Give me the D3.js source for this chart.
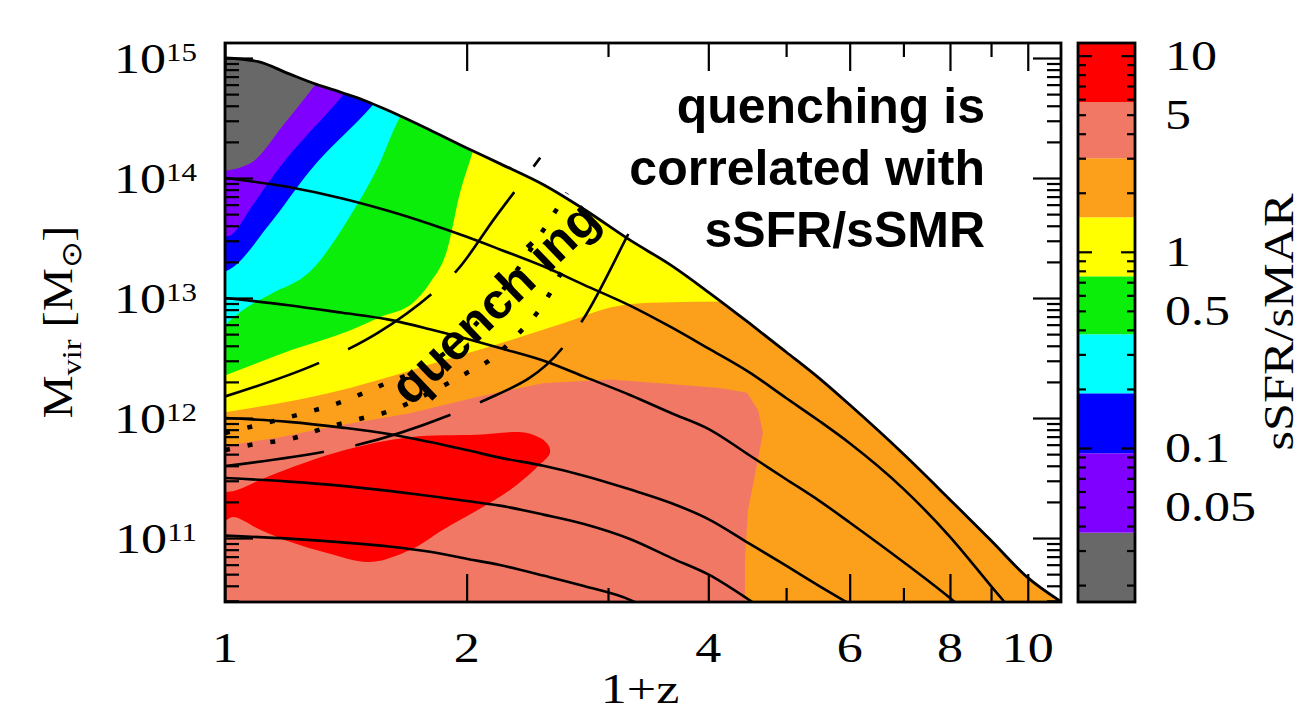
<!DOCTYPE html>
<html>
<head>
<meta charset="utf-8">
<script src="https://cdn.jsdelivr.net/npm/d3@7/dist/d3.min.js"></script>
<style>
html, body { margin: 0; padding: 0; background: #ffffff; }
svg { display: block; }
text { font-family: "Liberation Serif", "Times New Roman", serif; fill: #000; }
.note { font-family: "Liberation Sans", Arial, Helvetica, sans-serif; font-weight: bold; }
</style>
</head>
<body>
<svg id="chart" width="1306" height="723"></svg>
<script>
// Points are [1+z, log10(Mvir / Msun)].

// upper envelope of the populated region
const envelope = [[1.0,15.0],[1.1,14.97],[1.2,14.87],[1.3,14.78],[1.4,14.71],[1.5,14.64],[1.6,14.56],[1.8,14.40],[2.0,14.25],[2.2,14.12],[2.5,13.94],[2.8,13.74],[3.2,13.48],[3.6,13.27],[4.0,13.05],[4.5,12.79],[5.0,12.55],[5.5,12.33],[6.0,12.11],[7.0,11.70],[8.0,11.32],[9.0,10.98],[10,10.67],[11,10.47]];

// average mass-growth tracks, named by log10 of the z=0 mass
const track14 = [[1.0,14.0],[1.2,13.925],[1.4,13.83],[1.6,13.725],[1.8,13.617],[2.0,13.51],[2.2,13.405],[2.5,13.26],[2.8,13.11],[3.2,12.935],[3.6,12.755],[4.0,12.58],[4.5,12.38],[5.0,12.167],[5.5,11.975],[6.0,11.79],[7.0,11.41],[8.0,11.01],[9.0,10.6],[9.4,10.45]];
const track13 = [[1.0,13.0],[1.2,12.94],[1.4,12.877],[1.6,12.82],[1.8,12.74],[2.0,12.66],[2.2,12.583],[2.5,12.475],[2.8,12.345],[3.2,12.19],[3.6,12.04],[4.0,11.91],[4.5,11.69],[5.0,11.49],[5.5,11.31],[6.0,11.13],[7.0,10.80],[8.0,10.50],[8.2,10.44]];
const track12 = [[1.0,12.0],[1.2,11.968],[1.4,11.92],[1.6,11.867],[1.8,11.80],[2.0,11.733],[2.2,11.67],[2.5,11.6],[2.8,11.52],[3.2,11.404],[3.6,11.29],[4.0,11.158],[4.5,10.953],[5.0,10.77],[5.5,10.60],[6.0,10.45]];
const track115 = [[1.0,11.5],[1.2,11.47],[1.4,11.435],[1.6,11.393],[1.8,11.35],[2.0,11.308],[2.2,11.27],[2.5,11.193],[2.8,11.117],[3.2,10.99],[3.6,10.833],[4.0,10.697],[4.5,10.483],[4.6,10.44]];
const track11 = [[1.0,11.02],[1.2,10.995],[1.4,10.964],[1.6,10.93],[1.8,10.885],[2.0,10.827],[2.2,10.775],[2.5,10.685],[2.8,10.6],[3.2,10.483],[3.3,10.44]];

// dashed and dotted quenching curves
const quenchDashA = [[1.0,12.18],[1.32,12.47],[1.43,12.58],[1.55,12.71],[1.82,13.05],[1.945,13.23],[2.17,13.67],[2.42,14.09],[2.47,14.17]];
const quenchDashB = [[1.0,11.6],[1.332,11.72],[1.46,11.775],[1.906,12.025],[2.078,12.13],[2.637,12.59],[2.792,12.82],[3.15,13.48],[3.2,13.57]];
const quenchDotA = [[1.0,11.875],[1.074,11.925],[1.229,12.025],[1.391,12.13],[1.569,12.275],[1.785,12.44],[2.02,12.73],[2.265,13.15],[2.469,13.525],[2.667,13.875]];
const quenchDotB = [[1.0,11.733],[1.074,11.775],[1.229,11.84],[1.306,11.9],[1.486,12.0],[1.573,12.04],[1.80,12.21],[2.0,12.375],[2.121,12.467],[2.331,12.717],[2.447,12.875],[2.54,13.04],[2.652,13.275]];

// sSFR/sMAR level regions
const salmonRegion = [[0.98,10.3],[0.98,11.76],[1.171,11.84],[1.351,11.925],[1.70,12.04],[2.06,12.175],[2.489,12.29],[3.017,12.32],[3.483,12.29],[4.136,12.25],[4.469,12.21],[4.613,12.07],[4.679,11.875],[4.586,11.57],[4.482,11.23],[4.443,10.82],[4.443,10.3]];
const redRegion = [[0.99,11.36],[1.035,11.40],[1.138,11.52],[1.403,11.73],[1.70,11.84],[2.06,11.86],[2.378,11.875],[2.518,11.79],[2.54,11.71],[2.447,11.59],[2.265,11.40],[2.06,11.23],[1.869,11.07],[1.70,10.9],[1.516,10.8],[1.34,10.875],[1.215,10.96],[1.106,11.07],[1.023,11.175],[0.99,11.13]];
// lower edges of the low-ratio bands (each band fills everything above its edge)
const yellowEdge = [[0.98,12.04],[1.431,12.25],[1.56,12.32],[1.869,12.48],[2.078,12.57],[2.667,12.8],[3.043,12.925],[3.383,12.96],[4.38,12.97],[4.64,12.97]];
const greenEdge = [[0.98,12.33],[1.215,12.57],[1.431,12.73],[1.56,12.84],[1.715,12.96],[1.80,13.125],[1.891,13.4],[1.962,13.875],[2.037,14.23],[2.078,14.44]];
const cyanEdge = [[0.98,12.72],[1.053,12.9],[1.138,13.03],[1.276,13.22],[1.443,13.72],[1.56,14.13],[1.638,14.46],[1.70,14.65]];
const blueEdge = [[0.98,13.2],[1.014,13.24],[1.138,13.62],[1.276,14.06],[1.529,14.61],[1.606,14.78]];
const purpleEdge = [[0.98,13.5],[1.014,13.52],[1.084,13.78],[1.161,14.06],[1.403,14.69],[1.473,14.86]];
const greyEdge = [[0.98,14.05],[1.074,14.12],[1.188,14.46],[1.3,14.79],[1.37,14.98]];

const colOrange = "#fca01c", colSalmon = "#f27866", colRed = "#ff0000", colYellow = "#ffff00",
      colGreen = "#0aee0a", colCyan = "#00ffff", colBlue = "#0000ff", colPurple = "#8000ff", colGrey = "#686868";

// colour bar
const cbarEdges = [0.0164, 0.037, 0.094, 0.19, 0.38, 0.75, 1.5, 3.0, 5.8, 11.6];
const cbarColors = [colGrey, colPurple, colBlue, colCyan, colGreen, colYellow, colOrange, colSalmon, colRed];
const cbarLabels = [10, 5, 1, 0.5, 0.1, 0.05];

// axes
const xMajorTicks = [1, 2, 4, 6, 8, 10];
const xMinorTicks = [3, 5, 7, 9];
const yDecades = [11, 12, 13, 14, 15];

// ------------------------------------------------------------------
const svg = d3.select("#chart");
const frame = {left: 225, right: 1061, top: 43, bottom: 602};
const x = d3.scaleLog().domain([1, 11]).range([frame.left, frame.right]);
const yMass = d3.scaleLog().domain([Math.pow(10, 10.467), Math.pow(10, 15.125)]).range([frame.bottom, frame.top]);
const y = lm => yMass(Math.pow(10, lm));

const smooth = d3.line().x(d => x(d[0])).y(d => y(d[1])).curve(d3.curveMonotoneX);
const straight = d3.line().x(d => x(d[0])).y(d => y(d[1]));
const blob = d3.line().x(d => x(d[0])).y(d => y(d[1])).curve(d3.curveCatmullRomClosed.alpha(0.5));
const above = d3.area().x(d => x(d[0])).y0(d => y(d[1])).y1(y(15.6)).curve(d3.curveMonotoneX);
const below = d3.area().x(d => x(d[0])).y0(y(10.0)).y1(d => y(d[1])).curve(d3.curveMonotoneX);

const defs = svg.append("defs");
defs.append("clipPath").attr("id", "frameClip").append("rect")
  .attr("x", frame.left).attr("y", frame.top)
  .attr("width", frame.right - frame.left).attr("height", frame.bottom - frame.top);
defs.append("clipPath").attr("id", "envClip").append("path").attr("d", below(envelope));

// filled level regions
const fills = svg.append("g").attr("clip-path", "url(#frameClip)")
  .append("g").attr("clip-path", "url(#envClip)");
fills.append("rect").attr("x", frame.left).attr("y", frame.top)
  .attr("width", frame.right - frame.left).attr("height", frame.bottom - frame.top).attr("fill", colOrange);
fills.append("path").attr("d", straight(salmonRegion) + "Z").attr("fill", colSalmon);
fills.append("path").attr("d", blob(redRegion)).attr("fill", colRed);
[[yellowEdge, colYellow], [greenEdge, colGreen], [cyanEdge, colCyan], [blueEdge, colBlue],
 [purpleEdge, colPurple], [greyEdge, colGrey]].forEach(([edge, c]) => {
  fills.append("path").attr("d", above(edge)).attr("fill", c);
});

// curves
const curves = svg.append("g").attr("clip-path", "url(#frameClip)").attr("fill", "none").attr("stroke", "#000");
[track14, track13, track12, track115, track11].forEach(t => {
  curves.append("path").attr("d", smooth(t)).attr("stroke-width", 2.6);
});
curves.append("path").attr("d", smooth(envelope)).attr("stroke-width", 2.8);
[quenchDashA, quenchDashB].forEach(t => {
  curves.append("path").attr("d", smooth(t)).attr("stroke-width", 2.6).attr("stroke-dasharray", "100,32");
});
[quenchDotA, quenchDotB].forEach(t => {
  curves.append("path").attr("d", smooth(t)).attr("stroke-width", 4.5).attr("stroke-dasharray", "5,18");
});

// tick marks (inward on all four sides)
function tickMarks(axisFn, scale, values, size, tx, ty) {
  const g = svg.append("g").attr("transform", `translate(${tx},${ty})`)
    .call(axisFn(scale).tickValues(values).tickSize(size).tickFormat(""));
  g.select(".domain").remove();
  g.selectAll("line").attr("stroke", "#000").attr("stroke-width", 2.2);
}
const yMajor = yDecades.map(n => Math.pow(10, n));
const yMinor = [];
for (let n = 10; n <= 14; n++) for (let k = 2; k <= 9; k++) {
  const v = k * Math.pow(10, n);
  if (v > yMass.domain()[0] && v < yMass.domain()[1]) yMinor.push(v);
}
tickMarks(d3.axisRight, yMass, yMajor, 28, frame.left, 0);
tickMarks(d3.axisRight, yMass, yMinor, 14, frame.left, 0);
tickMarks(d3.axisLeft, yMass, yMajor, 28, frame.right, 0);
tickMarks(d3.axisLeft, yMass, yMinor, 14, frame.right, 0);
tickMarks(d3.axisTop, x, xMajorTicks, 28, 0, frame.bottom);
tickMarks(d3.axisTop, x, xMinorTicks, 14, 0, frame.bottom);
tickMarks(d3.axisBottom, x, xMajorTicks, 28, 0, frame.top);
tickMarks(d3.axisBottom, x, xMinorTicks, 14, 0, frame.top);

svg.append("rect").attr("x", frame.left).attr("y", frame.top)
  .attr("width", frame.right - frame.left).attr("height", frame.bottom - frame.top)
  .attr("fill", "none").attr("stroke", "#000").attr("stroke-width", 2.8);

// serif labels are drawn a little wider than the font's own glyphs
const widen = 1.24;
function label(px, py, anchor, size) {
  return svg.append("g").attr("transform", `translate(${px},${py}) scale(${widen},1)`)
    .append("text").attr("text-anchor", anchor).attr("font-size", size);
}

// tick labels
xMajorTicks.forEach(v => {
  label(x(v), 662, "middle", 42).text(v);
});
yDecades.forEach(n => {
  const t = label(197, yMass(Math.pow(10, n)) + 15, "end", 42);
  t.append("tspan").text("10");
  t.append("tspan").attr("font-size", 25).attr("dy", -12).text(n);
});

// axis titles
label(640, 703, "middle", 42).text("1+z");
const yt = svg.append("text").attr("transform", "translate(72,322) rotate(-90)")
  .attr("text-anchor", "middle").attr("font-size", 42)
  .attr("textLength", 193).attr("lengthAdjust", "spacingAndGlyphs");
yt.append("tspan").text("M");
yt.append("tspan").attr("font-size", 28).attr("dy", 9).text("vir");
yt.append("tspan").attr("dy", -9).text(" [M");
yt.append("tspan").attr("font-size", 28).attr("dy", 9).text("\u2299");
yt.append("tspan").attr("dy", -9).text("]");

// colour bar
const cb = {left: 1078, right: 1135};
const cbar = d3.scaleLog().domain([cbarEdges[0], cbarEdges[cbarEdges.length - 1]]).range([frame.bottom, frame.top]);
cbarColors.forEach((c, i) => {
  svg.append("rect").attr("x", cb.left).attr("width", cb.right - cb.left)
    .attr("y", cbar(cbarEdges[i + 1])).attr("height", cbar(cbarEdges[i]) - cbar(cbarEdges[i + 1]))
    .attr("fill", c);
});
const cbMajor = [0.1, 1, 10];
const cbMinor = [];
for (let n = -2; n <= 1; n++) for (let k = 2; k <= 9; k++) {
  const v = k * Math.pow(10, n);
  if (v > cbar.domain()[0] && v < cbar.domain()[1]) cbMinor.push(v);
}
tickMarks(d3.axisRight, cbar, cbMajor, 14, cb.left, 0);
tickMarks(d3.axisRight, cbar, cbMinor, 8, cb.left, 0);
tickMarks(d3.axisLeft, cbar, cbMajor, 14, cb.right, 0);
tickMarks(d3.axisLeft, cbar, cbMinor, 8, cb.right, 0);
svg.append("rect").attr("x", cb.left).attr("y", frame.top)
  .attr("width", cb.right - cb.left).attr("height", frame.bottom - frame.top)
  .attr("fill", "none").attr("stroke", "#000").attr("stroke-width", 2.8);
cbarLabels.forEach(v => {
  label(1165, cbar(v) + 14, "start", 42).text(v);
});
svg.append("text").attr("transform", "translate(1293,322) rotate(-90)")
  .attr("text-anchor", "middle").attr("font-size", 42)
  .attr("textLength", 257).attr("lengthAdjust", "spacingAndGlyphs").text("sSFR/sMAR");

// annotations
svg.append("text").attr("class", "note").attr("font-size", 50)
  .attr("transform", "translate(497,305) rotate(-44)")
  .attr("text-anchor", "middle").attr("dy", "0.27em").text("quench ing");
["quenching is", "correlated with", "sSFR/sSMR"].forEach((s, i) => {
  svg.append("text").attr("class", "note").attr("font-size", 50)
    .attr("x", 985).attr("y", 123 + 62 * i).attr("text-anchor", "end").text(s);
});
</script>
</body>
</html>
